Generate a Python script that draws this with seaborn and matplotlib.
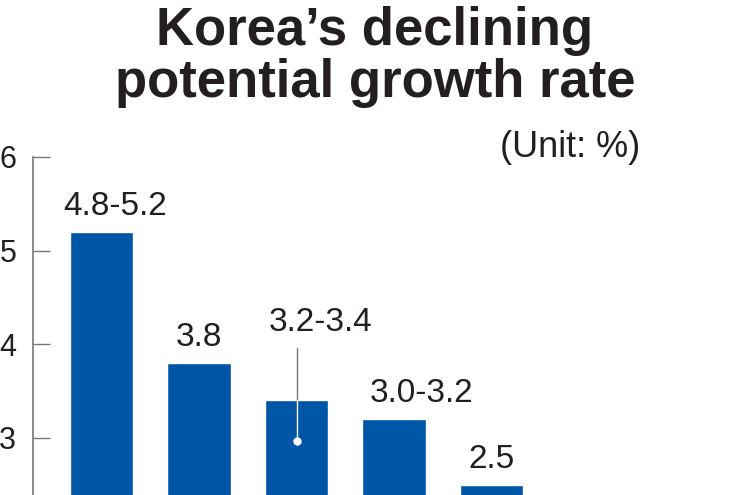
import numpy as np
import pandas as pd
import matplotlib
matplotlib.use("Agg")
import matplotlib.pyplot as plt
import seaborn as sns

# periods are cut off in the source picture, only the bars remain
periods = ["P1", "P2", "P3", "P4", "P5"]
rates = [5.2, 3.8, 3.4, 3.2, 2.5]
rate_labels = ["4.8-5.2", "3.8", "3.2-3.4", "3.0-3.2", "2.5"]
y_ticks = [3, 4, 5, 6]

# callout on the third bar
callout_bar = 2
callout_dot = 2.97
callout_top = 3.96

BLUE = "#0056a6"
INK = "#231f20"
GREY = "#777777"

sns.set_style("white")
plt.rcParams["font.family"] = ["Liberation Sans", "DejaVu Sans"]

df = pd.DataFrame({"period": periods, "rate": rates})

fig = plt.figure(figsize=(7.5, 4.95), dpi=100)
ax = fig.add_axes([0.044, 0.0, 0.956, 0.683])

sns.barplot(data=df, x="period", y="rate", color=BLUE, saturation=1,
            width=0.65, ax=ax)

ax.set_xlim(-0.703, 6.65)
ax.set_ylim(2.39, 6)
ax.set_yticks(y_ticks)
ax.set_xticks([])
ax.set_xlabel("")
ax.set_ylabel("")
for s in ["top", "right", "bottom"]:
    ax.spines[s].set_visible(False)
ax.spines["left"].set_color(GREY)
ax.spines["left"].set_linewidth(1.2)
ax.tick_params(axis="y", left=True, direction="in", length=12, width=1,
               color=GREY, labelsize=22, labelcolor=INK, pad=12)

# value labels (pixel offsets from bar tops)
offsets = [(14, 10), (0, 10), (24, 62), (27, 10), (0, 10)]
for i, (lab, v) in enumerate(zip(rate_labels, rates)):
    ax.annotate(lab, xy=(i, v), xytext=offsets[i], textcoords="offset pixels",
                ha="center", va="bottom", fontsize=24, color=INK)

# callout line with dot
ax.plot([callout_bar, callout_bar], [rates[callout_bar], callout_top],
        color=GREY, lw=1)
ax.plot([callout_bar, callout_bar], [callout_dot, rates[callout_bar]],
        color="white", lw=1)
ax.plot([callout_bar], [callout_dot], "o", color="white", ms=5)

title_font = ["Liberation Sans Narrow", "Liberation Sans", "DejaVu Sans"]
fig.text(0.5, 1 - 45 / 495, "Korea\u2019s declining", ha="center",
         va="baseline", fontsize=38, fontweight="bold", color=INK,
         family=title_font)
fig.text(0.5, 1 - 97 / 495, "potential growth rate", ha="center",
         va="baseline", fontsize=38, fontweight="bold", color=INK,
         family=title_font)
fig.text(640 / 750, 1 - 157 / 495, "(Unit: %)", ha="right", va="baseline",
         fontsize=26, color=INK)

fig.savefig("out.png", dpi=100)
